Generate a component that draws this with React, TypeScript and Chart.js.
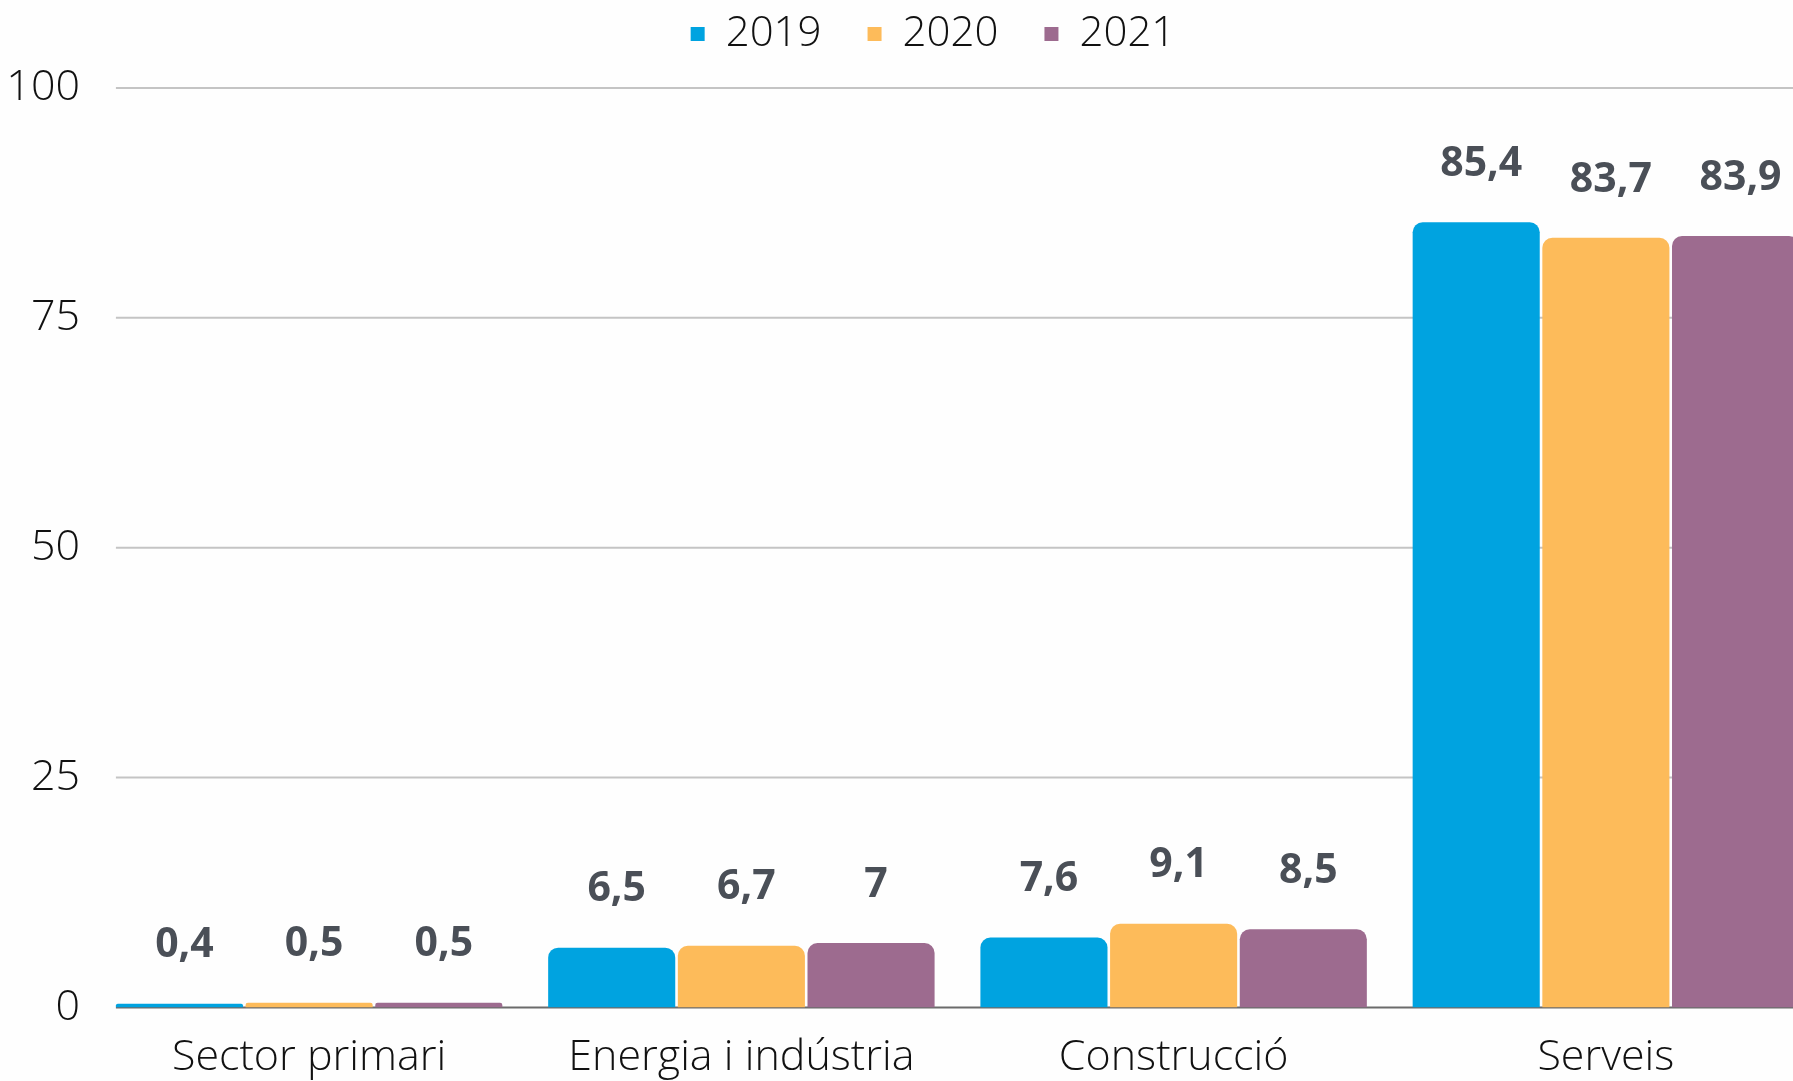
import React, { useEffect, useRef } from "react";
import { Chart, registerables } from "chart.js";

Chart.register(...registerables);

const categories = ["Sector primari", "Energia i indústria", "Construcció", "Serveis"];
const seriesNames = ["2019", "2020", "2021"];
const values2019 = [0.4, 6.5, 7.6, 85.4];
const values2020 = [0.5, 6.7, 9.1, 83.7];
const values2021 = [0.5, 7, 8.5, 83.9];
const seriesColors = ["#00a3e0", "#fdbb5a", "#9d6b8f"];
const yTicks = [0, 25, 50, 75, 100];

const fmt = (v: number) => String(v).replace(".", ",");

const gridPlugin = {
  id: "customGrid",
  beforeDatasetsDraw(chart: any) {
    const ys = chart.scales.y;
    const first = chart.getDatasetMeta(0).data[0];
    if (!first) return;
    const x0 = first.x - first.width / 2;
    const ctx = chart.ctx;
    ctx.save();
    yTicks.forEach((v) => {
      const y = ys.getPixelForValue(v);
      ctx.beginPath();
      ctx.lineWidth = 2;
      ctx.strokeStyle = v === 0 ? "#6b6b6b" : "#c4c4c4";
      ctx.moveTo(x0, y);
      ctx.lineTo(chart.width, y);
      ctx.stroke();
    });
    ctx.restore();
  },
};

const labelPlugin = {
  id: "valueLabels",
  afterDatasetsDraw(chart: any) {
    const ctx = chart.ctx;
    ctx.save();
    ctx.font = "bold 41px 'Open Sans'";
    ctx.fillStyle = "#4a4f57";
    ctx.textAlign = "center";
    ctx.textBaseline = "middle";
    chart.data.datasets.forEach((ds: any, i: number) => {
      const meta = chart.getDatasetMeta(i);
      meta.data.forEach((bar: any, j: number) => {
        ctx.fillText(fmt(ds.data[j]), bar.x + 5, bar.y - 58);
      });
    });
    ctx.restore();
  },
};

const legendSpacePlugin = {
  id: "legendSpace",
  beforeLayout(chart: any) {
    const lg = chart.legend;
    if (lg && !lg.__patched) {
      const origFit = lg.fit;
      lg.fit = function () {
        origFit.call(this);
        this.height += 23;
      };
      const origDraw = lg.draw;
      lg.draw = function () {
        this.ctx.save();
        this.ctx.translate(22, 0);
        origDraw.call(this);
        this.ctx.restore();
      };
      lg.__patched = true;
    }
  },
};

export default function App() {
  const ref = useRef<HTMLCanvasElement | null>(null);
  useEffect(() => {
    if (!ref.current) return;
    const allSeries = [values2019, values2020, values2021];
    const chart = new Chart(ref.current, {
      type: "bar",
      data: {
        labels: categories,
        datasets: seriesNames.map((name, i) => ({
          label: name,
          data: allSeries[i],
          backgroundColor: seriesColors[i],
          borderRadius: { topLeft: 10, topRight: 10, bottomLeft: 0, bottomRight: 0 },
          borderSkipped: false,
          barPercentage: 0.98,
          categoryPercentage: 0.9,
        })),
      },
      options: {
        responsive: false,
        animation: false,
        layout: { padding: { top: -33, left: 0, right: 0, bottom: -28 } },
        plugins: {
          legend: {
            position: "top",
            labels: {
              boxWidth: 14,
              boxHeight: 14,
              padding: 46,
              color: "#111111",
              font: { family: "'Open Sans'", size: 42, weight: "300" as any },
            },
          },
          tooltip: { enabled: false },
        },
        scales: {
          x: {
            grid: { display: false, drawTicks: false },
            border: { display: false },
            ticks: {
              padding: 25,
              color: "#111111",
              font: { family: "'Open Sans'", size: 43, weight: "300" as any },
            },
          },
          y: {
            min: 0,
            max: 100,
            afterFit: (s: any) => {
              s.width = 93;
            },
            afterBuildTicks: (s: any) => {
              s.ticks = yTicks.map((v) => ({ value: v }));
            },
            grid: { display: false, drawTicks: false },
            border: { display: false },
            ticks: {
              padding: 13,
              color: "#111111",
              font: { family: "'Open Sans'", size: 43, weight: "300" as any },
            },
          },
        },
      },
      plugins: [gridPlugin, labelPlugin, legendSpacePlugin],
    });
    return () => chart.destroy();
  }, []);
  return (
    <div style={{ position: "fixed", left: 0, top: 0, width: 1822, height: 1081, background: "#fefefe" }}>
      <canvas ref={ref} width={1822} height={1081} style={{ width: 1822, height: 1081 }} />
    </div>
  );
}
